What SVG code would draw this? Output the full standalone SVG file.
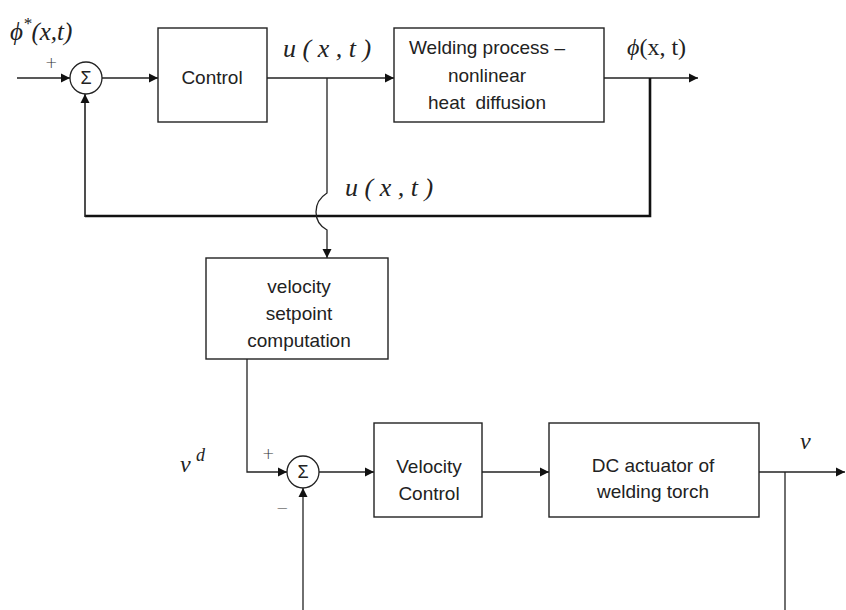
<svg xmlns="http://www.w3.org/2000/svg" width="846" height="610" viewBox="0 0 846 610">
<defs>
<marker id="ah" markerWidth="10" markerHeight="10" refX="9" refY="5" orient="auto" markerUnits="userSpaceOnUse">
<path d="M0,0.5 L9,5 L0,9.5 Z" fill="#111"/>
</marker>
</defs>
<style>
.box{fill:#fff;stroke:#222;stroke-width:1.4}
.sum{fill:#fff;stroke:#222;stroke-width:1.3}
.ln{fill:none;stroke:#222;stroke-width:1.3}
.thick{fill:none;stroke:#111;stroke-width:2.6}
.t{font-family:"Liberation Sans",Arial,sans-serif;font-size:19px;fill:#222;text-anchor:middle}
.s{font-family:"Liberation Sans",Arial,sans-serif;font-size:18px;fill:#222;text-anchor:middle}
.m{font-family:"Liberation Serif","Times New Roman",serif;font-style:italic;fill:#222}
.r{font-family:"Liberation Serif","Times New Roman",serif;fill:#222}
.sg{font-family:"DejaVu Sans",sans-serif;font-size:15px;fill:#333;font-weight:300}
</style>
<rect width="846" height="610" fill="#fff"/>
<g id="connectors">
<line class="ln" x1="17" y1="78" x2="70" y2="78" marker-end="url(#ah)"/>
<line class="ln" x1="102" y1="78" x2="158" y2="78" marker-end="url(#ah)"/>
<line class="ln" x1="267" y1="78" x2="394" y2="78" marker-end="url(#ah)"/>
<line class="ln" x1="604" y1="78" x2="698" y2="78" marker-end="url(#ah)"/>
<path class="thick" d="M650 78 V216 H85"/>
<line class="ln" x1="85" y1="217" x2="85" y2="94" marker-end="url(#ah)" style="stroke-width:1.6"/>
<path class="ln" d="M327 78 V193 Q316 200 316 212 Q316 224 327 230 V258" marker-end="url(#ah)"/>
<path class="ln" d="M247 359 V472 H287" marker-end="url(#ah)"/>
<line class="ln" x1="319" y1="472" x2="374" y2="472" marker-end="url(#ah)"/>
<line class="ln" x1="482" y1="472" x2="549" y2="472" marker-end="url(#ah)"/>
<line class="ln" x1="759" y1="472" x2="845" y2="472" marker-end="url(#ah)"/>
<line class="ln" x1="785" y1="472" x2="785" y2="610"/>
<line class="ln" x1="303" y1="610" x2="303" y2="488" marker-end="url(#ah)"/>
</g>
<g id="sum1">
<circle class="sum" cx="86" cy="78" r="16"/>
<text class="s" x="86" y="84">Σ</text>
</g>
<g id="control">
<rect class="box" x="158" y="28" width="109" height="94"/>
<text class="t" x="212" y="84">Control</text>
</g>
<g id="welding">
<rect class="box" x="394" y="28" width="210" height="94"/>
<text class="t" x="487" y="54">Welding process –</text>
<text class="t" x="487" y="82">nonlinear</text>
<text class="t" x="487" y="109" style="white-space:pre">heat  diffusion</text>
</g>
<g id="setpoint">
<rect class="box" x="206" y="258" width="182" height="101"/>
<text class="t" x="299" y="293">velocity</text>
<text class="t" x="299" y="320">setpoint</text>
<text class="t" x="299" y="347">computation</text>
</g>
<g id="sum2">
<circle class="sum" cx="303" cy="472" r="16"/>
<text class="s" x="303" y="478">Σ</text>
</g>
<g id="velocity-control">
<rect class="box" x="374" y="423" width="108" height="94"/>
<text class="t" x="429" y="473">Velocity</text>
<text class="t" x="429" y="500">Control</text>
</g>
<g id="dc-actuator">
<rect class="box" x="549" y="423" width="210" height="94"/>
<text class="t" x="653" y="472">DC actuator of</text>
<text class="t" x="653" y="498">welding torch</text>
</g>
<g id="labels">
<text class="m" x="10" y="40" font-size="25">ϕ<tspan font-size="17" dy="-11">*</tspan><tspan dy="11">(x,t)</tspan></text>
<text class="sg" x="45" y="68">+</text>
<text class="m" x="283" y="57" font-size="26" style="white-space:pre">u ( x , t )</text>
<text class="m" x="627" y="55" font-size="24">ϕ<tspan class="r" style="font-style:normal">(x, t)</tspan></text>
<text class="m" x="345" y="196" font-size="26" style="white-space:pre">u ( x , t )</text>
<text class="m" x="180" y="472" font-size="24">v</text>
<text class="m" x="196" y="461" font-size="18">d</text>
<text class="sg" x="262" y="459">+</text>
<text class="sg" x="276" y="513">−</text>
<text class="m" x="800" y="449" font-size="24">v</text>
</g>
</svg>
